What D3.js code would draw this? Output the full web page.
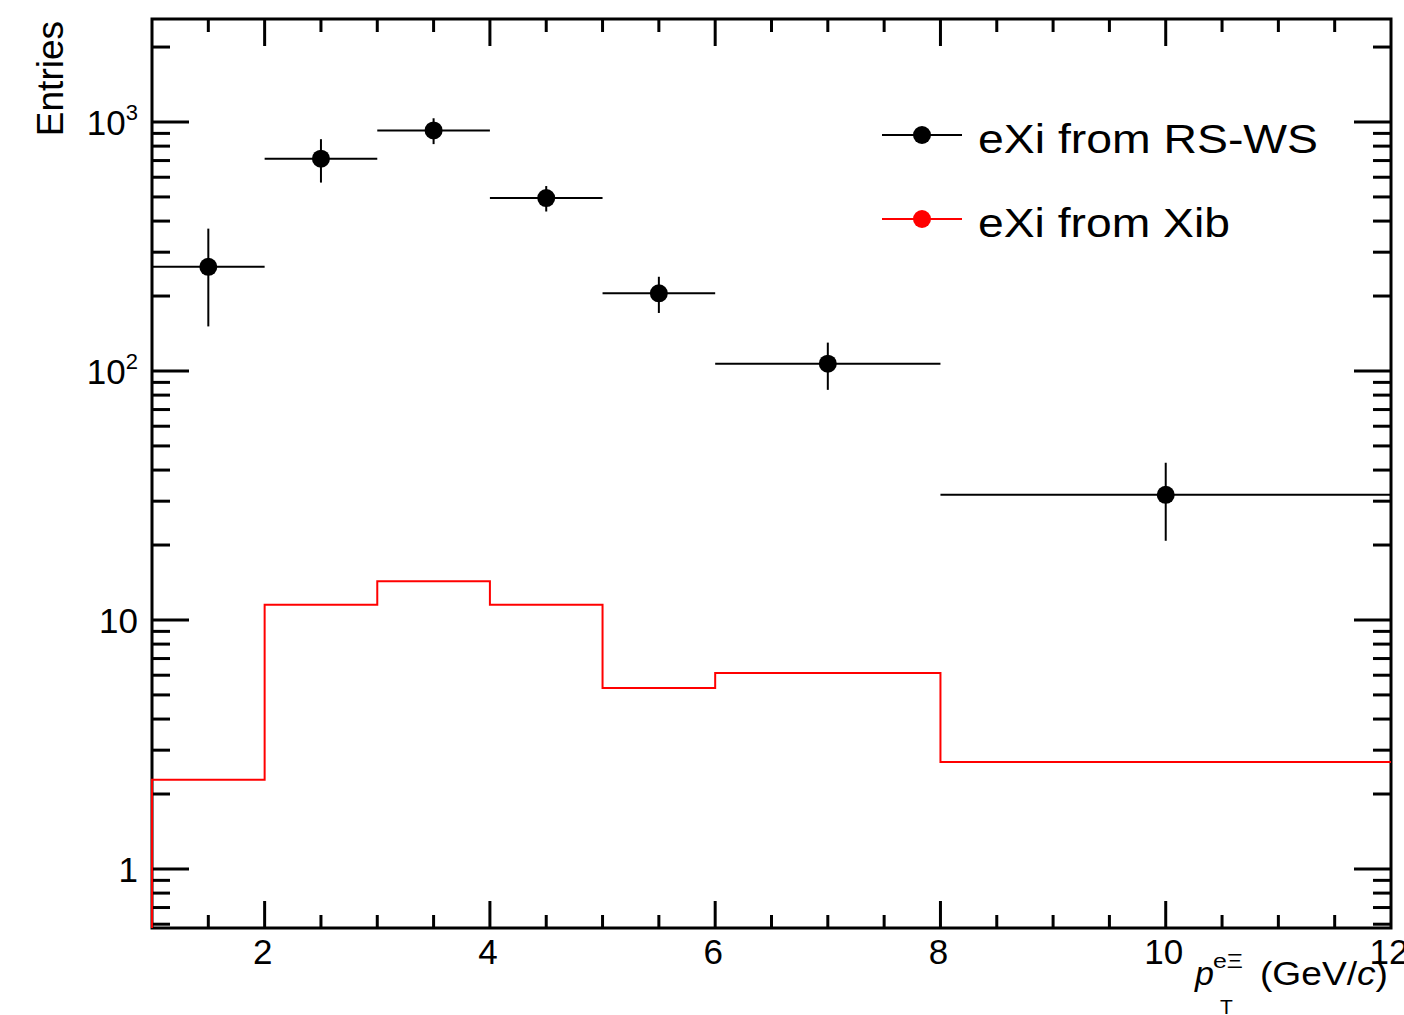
<!DOCTYPE html>
<html>
<head>
<meta charset="utf-8">
<script src="https://cdn.jsdelivr.net/npm/d3@7"></script>
<style>
  body { margin: 0; background: #fff; }
  svg text { font-family: "Liberation Sans", Arial, Helvetica, sans-serif; fill: #000; }
</style>
</head>
<body>
<div class="container"></div>
<script>
// bins in pT (GeV/c)
const binEdges = [1, 2, 3, 4, 5, 6, 8, 12];
// eXi from RS-WS : entries and errors
const rsws    = [262, 712, 925, 495, 205, 107, 31.8];
const rswsErr = [111, 141, 110, 58, 34, 23, 11];
// eXi from Xib
const xib = [2.28, 11.5, 14.3, 11.5, 5.33, 6.12, 2.69];

const xTickLabels = [2, 4, 6, 8, 10, 12];
const yMajor = [1, 10, 100, 1000];
const yLabels = ["1", "10", "10|2", "10|3"];

const W = 1404, H = 1015;
const frame = {left: 152, right: 1391, top: 19, bottom: 928};

const svg = d3.select(".container")
  .append("svg")
    .attr("width", W)
    .attr("height", H);

const x = d3.scaleLinear()
  .domain([1, 12])
  .range([frame.left, frame.right]);

const y = d3.scaleLog()
  .domain([0.5793, 2592])
  .range([frame.bottom, frame.top]);

// frame
svg.append("rect")
  .attr("x", frame.left)
  .attr("y", frame.top)
  .attr("width", frame.right - frame.left)
  .attr("height", frame.bottom - frame.top)
  .attr("fill", "none")
  .attr("stroke", "#000")
  .attr("stroke-width", 3);

// x ticks: minor every 0.5, major every 2
let xt = d3.range(1.5, 12, 0.5);
let tickG = svg.append("g").attr("stroke", "#000").attr("stroke-width", 3);
xt.forEach(v => {
  let len = (v % 2 === 0) ? 27 : 13;
  tickG.append("line")
    .attr("x1", x(v)).attr("x2", x(v))
    .attr("y1", frame.bottom).attr("y2", frame.bottom - len);
  tickG.append("line")
    .attr("x1", x(v)).attr("x2", x(v))
    .attr("y1", frame.top).attr("y2", frame.top + len);
});

// y ticks (log): majors at decades, minors at 2..9
let yt = [];
[0.1, 1, 10, 100, 1000].forEach(d => {
  for (let k = 1; k < 10; k++) {
    let v = d * k;
    if (v > y.domain()[0] && v < y.domain()[1]) yt.push(v);
  }
});
yt.forEach(v => {
  let len = yMajor.includes(v) ? 37 : 18;
  tickG.append("line")
    .attr("x1", frame.left).attr("x2", frame.left + len)
    .attr("y1", y(v)).attr("y2", y(v));
  tickG.append("line")
    .attr("x1", frame.right).attr("x2", frame.right - len)
    .attr("y1", y(v)).attr("y2", y(v));
});

// x tick labels
svg.append("g")
  .selectAll("text")
  .data(xTickLabels)
  .enter()
  .append("text")
    .attr("x", d => x(d) - 2)
    .attr("y", 964)
    .attr("text-anchor", "middle")
    .style("font-size", "35px")
    .text(d => d);

// y tick labels
yMajor.forEach((v, i) => {
  let parts = yLabels[i].split("|");
  let t = svg.append("text")
    .attr("x", 138)
    .attr("y", y(v) + 13)
    .attr("text-anchor", "end")
    .style("font-size", "35px");
  t.append("tspan").text(parts[0]);
  if (parts[1]) {
    t.append("tspan")
      .attr("dy", -15)
      .style("font-size", "22px")
      .text(parts[1]);
  }
});

// axis titles
svg.append("text")
  .attr("transform", "translate(63, 21) rotate(-90)")
  .attr("text-anchor", "end")
  .style("font-size", "37px")
  .text("Entries");

svg.append("text")
  .attr("x", 1260)
  .attr("y", 985)
  .attr("textLength", 128)
  .attr("lengthAdjust", "spacingAndGlyphs")
  .style("font-size", "34px")
  .html('(GeV/<tspan font-style="italic">c</tspan>)');

svg.append("text")
  .attr("x", 1195)
  .attr("y", 985)
  .style("font-size", "34px")
  .style("font-style", "italic")
  .text("p");
svg.append("text")
  .attr("x", 1220)
  .attr("y", 1014)
  .style("font-size", "21px")
  .text("T");
svg.append("text")
  .attr("x", 1213)
  .attr("y", 968)
  .attr("textLength", 30)
  .attr("lengthAdjust", "spacingAndGlyphs")
  .style("font-size", "21px")
  .text("eΞ");

// red histogram (eXi from Xib)
let pts = [[x(binEdges[0]), frame.bottom]];
xib.forEach((v, i) => {
  pts.push([x(binEdges[i]), y(v)]);
  pts.push([x(binEdges[i + 1]), y(v)]);
});

svg.append("path")
  .attr("d", d3.line()(pts))
  .attr("fill", "none")
  .attr("stroke", "#ff0000")
  .attr("stroke-width", 2);

// black points with errors (eXi from RS-WS)
let pg = svg.append("g");
rsws.forEach((v, i) => {
  let lo = binEdges[i], hi = binEdges[i + 1];
  let c = (lo + hi) / 2;
  pg.append("line")
    .attr("x1", x(lo)).attr("x2", x(hi))
    .attr("y1", y(v)).attr("y2", y(v))
    .attr("stroke", "#000").attr("stroke-width", 2);
  pg.append("line")
    .attr("x1", x(c)).attr("x2", x(c))
    .attr("y1", y(v + rswsErr[i])).attr("y2", y(v - rswsErr[i]))
    .attr("stroke", "#000").attr("stroke-width", 2);
  pg.append("circle")
    .attr("cx", x(c))
    .attr("cy", y(v))
    .attr("r", 9)
    .attr("fill", "#000");
});

// legend
const legendItems = [
  {label: "eXi from RS-WS", color: "#000", y: 135, len: 340},
  {label: "eXi from Xib", color: "#ff0000", y: 219, len: 252}
];
let legend = svg.append("g");
legendItems.forEach(d => {
  legend.append("line")
    .attr("x1", 882).attr("x2", 962)
    .attr("y1", d.y).attr("y2", d.y)
    .attr("stroke", d.color).attr("stroke-width", 2);
  legend.append("circle")
    .attr("cx", 922).attr("cy", d.y)
    .attr("r", 9)
    .attr("fill", d.color);
  legend.append("text")
    .attr("x", 978)
    .attr("y", d.y + 18)
    .attr("textLength", d.len)
    .attr("lengthAdjust", "spacingAndGlyphs")
    .style("font-size", "40px")
    .text(d.label);
});
</script>
</body>
</html>
